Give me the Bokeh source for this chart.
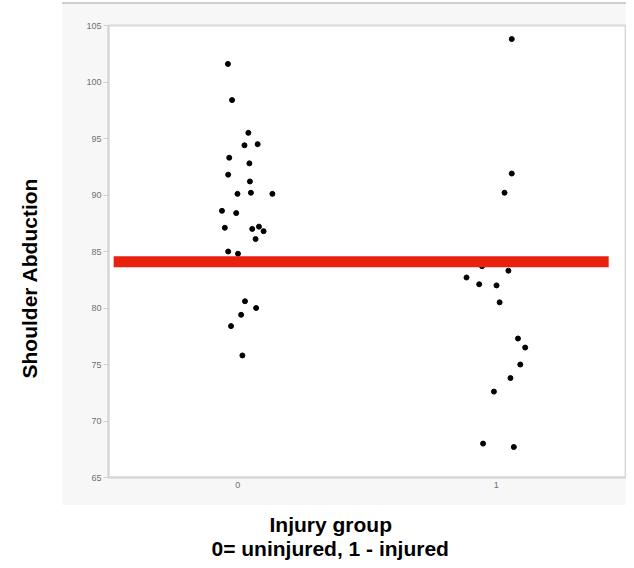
from bokeh.plotting import figure
from bokeh.models import Title, FixedTicker
from bokeh.embed import file_html
from bokeh.resources import INLINE

# ---- data ----
group0_x = [-0.038, -0.022, 0.041, 0.026, 0.077, -0.033, 0.045, -0.037, 0.047, -0.001,
            0.051, 0.134, -0.061, -0.006, -0.050, 0.056, 0.082, 0.100, 0.069, -0.037,
            0.001, 0.028, 0.071, 0.013, -0.026, 0.018]
group0_y = [101.6, 98.4, 95.5, 94.4, 94.5, 93.3, 92.8, 91.8, 91.2, 90.1,
            90.2, 90.1, 88.6, 88.4, 87.1, 87.0, 87.2, 86.8, 86.1, 85.0,
            84.8, 80.6, 80.0, 79.4, 78.4, 75.8]
group1_x = [1.060, 1.060, 1.032, 0.945, 1.047, 0.885, 0.934, 1.001, 1.013, 1.084,
            1.112, 1.093, 1.055, 0.991, 0.949, 1.068]
group1_y = [103.8, 91.9, 90.2, 83.7, 83.3, 82.7, 82.1, 82.0, 80.5, 77.3,
            76.5, 75.0, 73.8, 72.6, 68.0, 67.7]
mean_value = 84.1
x_ticks = [0, 1]
x_tick_labels = ["0", "1"]
y_ticks = [65, 70, 75, 80, 85, 90, 95, 100, 105]
y_title = "Shoulder Abduction"
x_title_lines = ["Injury group", "0= uninjured, 1 - injured"]

FONT = "Liberation Sans"
W, H = 626, 560

p = figure(width=W, height=H, x_range=(-0.5, 1.5), y_range=(65, 105),
           output_backend="svg", toolbar_location=None,
           min_border_left=108, min_border_right=1, min_border_top=25, min_border_bottom=83)
p.border_fill_alpha = 0
p.background_fill_color = "white"
p.outline_line_color = "#d9d9d9"
p.outline_line_width = 2
p.xgrid.visible = False
p.ygrid.visible = False
# light grey panel behind the chart, white page elsewhere
p.styles = {
    "background-color": "white",
    "background-image": "linear-gradient(#cfcfcf, #cfcfcf), linear-gradient(#f7f7f7, #f7f7f7)",
    "background-repeat": "no-repeat",
    "background-position": "62px 2px, 62px 4px",
    "background-size": "572px 2px, 572px 501px",
}

for ax in (p.xaxis[0], p.yaxis[0]):
    ax.axis_line_color = "#d6d6d6"
    ax.axis_line_width = 2
    ax.major_tick_line_color = "#cfcfcf"
    ax.minor_tick_line_color = None
    ax.major_label_text_color = "#707070"
    ax.major_label_text_font = FONT
    ax.major_label_text_font_size = "9px"
    # invisible axis label used only as spacing before the bold titles
    ax.axis_label = "."
    ax.axis_label_text_alpha = 0
    ax.axis_label_text_font_size = "10px"

p.xaxis.ticker = FixedTicker(ticks=x_ticks)
p.xaxis.major_label_overrides = {t: l for t, l in zip(x_ticks, x_tick_labels)}
p.xaxis.major_tick_out = 0
p.xaxis.major_tick_in = 0
p.xaxis.major_label_standoff = 4
p.xaxis.axis_label_standoff = 9

p.yaxis.ticker = FixedTicker(ticks=y_ticks)
p.yaxis.major_tick_out = 5
p.yaxis.major_tick_in = 0
p.yaxis.major_label_standoff = 2
p.yaxis.axis_label_standoff = 18

# points
p.scatter(group0_x, group0_y, size=5, color="black")
p.scatter(group1_x, group1_y, size=5, color="black")

# mean line
p.segment(x0=[-0.48], y0=[mean_value], x1=[1.435], y1=[mean_value],
          line_color="#e9220f", line_width=11, line_cap="butt")

# axis titles
yt = Title(text=y_title, align="left", offset=99, standoff=27,
           text_font=FONT, text_font_style="bold", text_font_size="21px", text_color="black")
p.add_layout(yt, "left")

xt1 = Title(text=x_title_lines[0], align="left", offset=161, standoff=0,
            text_font=FONT, text_font_style="bold", text_font_size="21px", text_color="black")
xt2 = Title(text=x_title_lines[1], align="left", offset=103, standoff=-2,
            text_font=FONT, text_font_style="bold", text_font_size="21px", text_color="black")
p.add_layout(xt1, "below")
p.add_layout(xt2, "below")

open("out.html", "w").write(file_html(p, INLINE))
